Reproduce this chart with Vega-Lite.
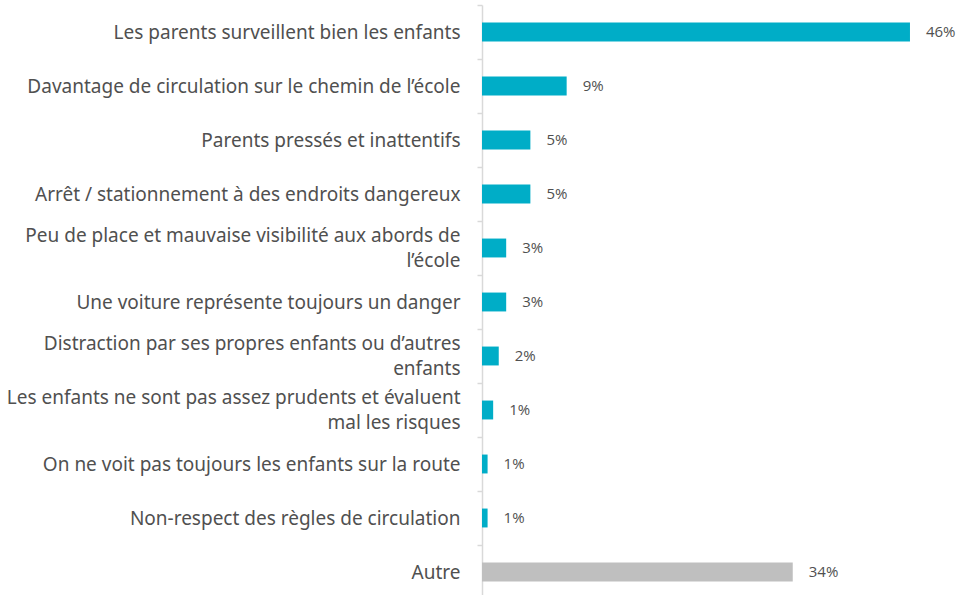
{
  "$schema": "https://vega.github.io/schema/vega-lite/v6.json",
  "autosize": "none",
  "width": 481,
  "height": 594,
  "padding": {"left": 482, "top": 5, "right": 0, "bottom": 0},
  "background": "white",
  "config": {"view": {"stroke": null}},
  "data": {
    "values": [
      {"cat": "Les parents surveillent bien les enfants", "value": 46.0, "label": "46%", "group": "main"},
      {"cat": "Davantage de circulation sur le chemin de l’école", "value": 9.1, "label": "9%", "group": "main"},
      {"cat": "Parents pressés et inattentifs", "value": 5.2, "label": "5%", "group": "main"},
      {"cat": "Arrêt / stationnement à des endroits dangereux", "value": 5.2, "label": "5%", "group": "main"},
      {"cat": "Peu de place et mauvaise visibilité aux abords de|l’école", "value": 2.6, "label": "3%", "group": "main"},
      {"cat": "Une voiture représente toujours un danger", "value": 2.6, "label": "3%", "group": "main"},
      {"cat": "Distraction par ses propres enfants ou d’autres|enfants", "value": 1.8, "label": "2%", "group": "main"},
      {"cat": "Les enfants ne sont pas assez prudents et évaluent|mal les risques", "value": 1.2, "label": "1%", "group": "main"},
      {"cat": "On ne voit pas toujours les enfants sur la route", "value": 0.6, "label": "1%", "group": "main"},
      {"cat": "Non-respect des règles de circulation", "value": 0.6, "label": "1%", "group": "main"},
      {"cat": "Autre", "value": 33.4, "label": "34%", "group": "other"}
    ]
  },
  "encoding": {
    "y": {
      "field": "cat",
      "type": "nominal",
      "sort": null,
      "scale": {"paddingInner": 0.65, "paddingOuter": 0.325},
      "axis": {
        "title": null,
        "labelExpr": "split(datum.label, '|')",
        "labelFont": "Noto Sans",
        "labelFontSize": 19,
        "labelColor": "#505050",
        "labelLineHeight": 25,
        "labelPadding": 17,
        "labelLimit": 480,
        "tickOffset": -27,
        "labelOffset": {"condition": {"test": "indexof(datum.value, '|') >= 0", "value": 14.5}, "value": 27},
        "tickColor": "#d9d9d9",
        "tickSize": 5,
        "tickWidth": 1.5,
        "domainColor": "#d9d9d9",
        "domainWidth": 1.5
      }
    },
    "x": {
      "field": "value",
      "type": "quantitative",
      "scale": {"domain": [0, 51.7]},
      "axis": null
    }
  },
  "layer": [
    {
      "mark": {"type": "bar"},
      "encoding": {
        "color": {
          "field": "group",
          "type": "nominal",
          "scale": {"domain": ["main", "other"], "range": ["#00ADC7", "#BFBFBF"]},
          "legend": null
        }
      }
    },
    {
      "mark": {"type": "text", "align": "left", "baseline": "middle", "dx": 16, "font": "Open Sans", "fontSize": 15, "color": "#505050"},
      "encoding": {"text": {"field": "label"}}
    }
  ]
}
